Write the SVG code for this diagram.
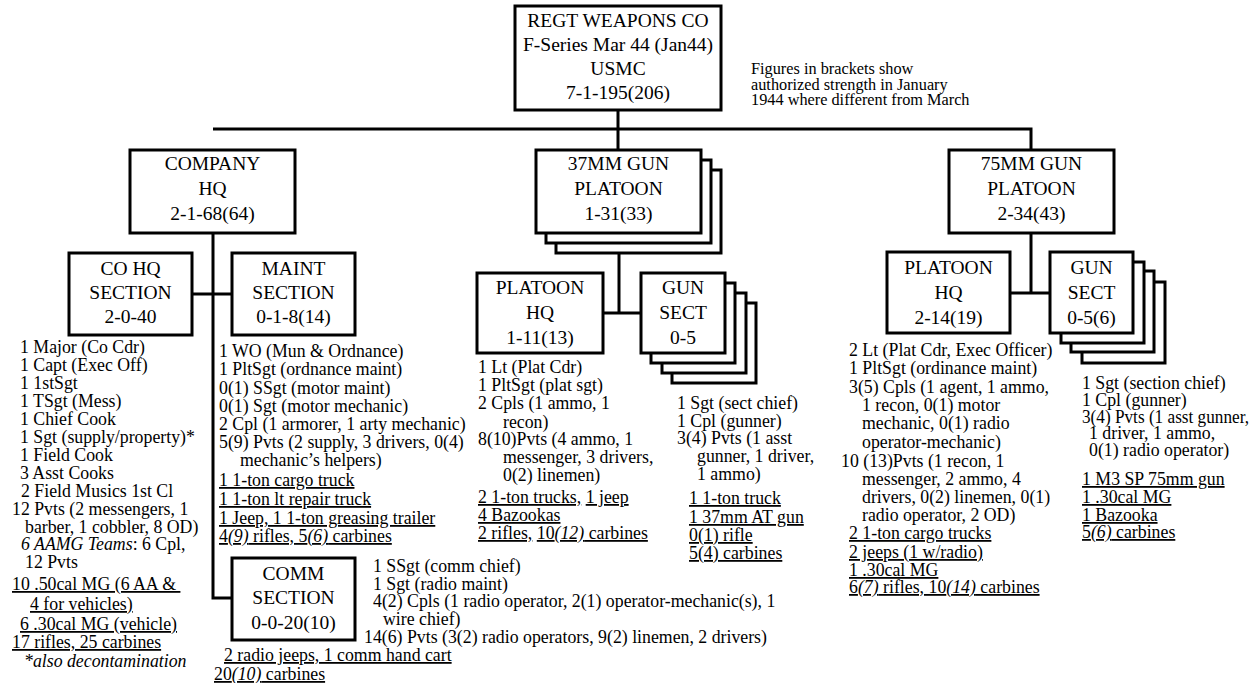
<svg xmlns="http://www.w3.org/2000/svg" width="1253" height="683" viewBox="0 0 1253 683">
<style>
.box{fill:#fff;stroke:#000;stroke-width:3}
.c{fill:none;stroke:#000;stroke-width:3}
text{font-family:"Liberation Serif","Times New Roman",serif;fill:#000}
.t{font-size:19.5px;text-anchor:middle}
.d{font-size:17.8px}
.n{font-size:16.3px}
.u{text-decoration:underline}
.i{font-style:italic}
</style>
<rect width="1253" height="683" fill="#fff"/>
<g id="connectors">
<path class="c" d="M618 110V150M213 129H1031V150M619 252V313M603 313H641M213 233V598H232M192 294H232M1031 233V293M1010 293H1050"/>
</g>
<g id="regt-weapons-co">
<rect class="box" x="515" y="6" width="206" height="104"/>
<text class="t" x="618" y="27">REGT WEAPONS CO</text>
<text class="t" x="618" y="51">F-Series Mar 44 (Jan44)</text>
<text class="t" x="618" y="75">USMC</text>
<text class="t" x="618" y="99">7-1-195(206)</text>
</g>
<g id="note">
<text class="n" x="751" y="74">Figures in brackets show</text>
<text class="n" x="751" y="89.5">authorized strength in January</text>
<text class="n" x="751" y="105">1944 where different from March</text>
</g>
<g id="company-hq">
<rect class="box" x="130" y="150" width="165" height="83"/>
<text class="t" x="212.5" y="170">COMPANY</text>
<text class="t" x="212.5" y="195">HQ</text>
<text class="t" x="212.5" y="220">2-1-68(64)</text>
</g>
<g id="co-hq-section">
<rect class="box" x="69" y="253" width="123" height="82"/>
<text class="t" x="130.5" y="275">CO HQ</text>
<text class="t" x="130.5" y="299">SECTION</text>
<text class="t" x="130.5" y="323">2-0-40</text>
<g class="d">
<text x="20" y="353">1 Major (Co Cdr)</text>
<text x="20" y="371">1 Capt (Exec Off)</text>
<text x="20" y="389">1 1stSgt</text>
<text x="20" y="407">1 TSgt (Mess)</text>
<text x="20" y="425">1 Chief Cook</text>
<text x="20" y="443">1 Sgt (supply/property)*</text>
<text x="20" y="461">1 Field Cook</text>
<text x="20" y="479">3 Asst Cooks</text>
<text x="21" y="497">2 Field Musics 1st Cl</text>
<text x="12" y="515">12 Pvts (2 messengers, 1</text>
<text x="25" y="533">barber, 1 cobbler, 8 OD)</text>
<text x="21" y="550"><tspan class="i">6 AAMG Teams</tspan>: 6 Cpl,</text>
<text x="25" y="568">12 Pvts</text>
<text class="u" x="12" y="590">10 .50cal MG (6 AA &amp;&#160;</text>
<text class="u" x="30" y="610">4 for vehicles)</text>
<text class="u" x="20" y="630">6 .30cal MG (vehicle)</text>
<text class="u" x="12" y="648">17 rifles, 25 carbines</text>
<text class="i" x="24" y="667">*also decontamination</text>
</g>
</g>
<g id="maint-section">
<rect class="box" x="232" y="253" width="123" height="82"/>
<text class="t" x="293.5" y="275">MAINT</text>
<text class="t" x="293.5" y="299">SECTION</text>
<text class="t" x="293.5" y="323">0-1-8(14)</text>
<g class="d">
<text x="219" y="357">1 WO (Mun &amp; Ordnance)</text>
<text x="219" y="375">1 PltSgt (ordnance maint)</text>
<text x="219" y="394">0(1) SSgt (motor maint)</text>
<text x="219" y="412">0(1) Sgt (motor mechanic)</text>
<text x="219" y="430">2 Cpl (1 armorer, 1 arty mechanic)</text>
<text x="219" y="448">5(9) Pvts (2 supply, 3 drivers, 0(4)</text>
<text x="240" y="466">mechanic’s helpers)</text>
<text class="u" x="219" y="486">1 1-ton cargo truck</text>
<text class="u" x="219" y="505">1 1-ton lt repair truck</text>
<text class="u" x="219" y="524">1 Jeep, 1 1-ton greasing trailer</text>
<text class="u" x="219" y="542">4<tspan class="i">(9)</tspan> rifles, 5<tspan class="i">(6)</tspan> carbines</text>
</g>
</g>
<g id="comm-section">
<rect class="box" x="232" y="558" width="123" height="82"/>
<text class="t" x="293.5" y="580">COMM</text>
<text class="t" x="293.5" y="604">SECTION</text>
<text class="t" x="293.5" y="629">0-0-20(10)</text>
<g class="d">
<text x="373" y="572">1 SSgt (comm chief)</text>
<text x="373" y="590">1 Sgt (radio maint)</text>
<text x="373" y="607">4(2) Cpls (1 radio operator, 2(1) operator-mechanic(s), 1</text>
<text x="383" y="625">wire chief)</text>
<text x="364" y="643">14(6) Pvts (3(2) radio operators, 9(2) linemen, 2 drivers)</text>
<text class="u" x="224" y="661">2 radio jeeps, 1 comm hand cart</text>
<text class="u" x="214" y="680">20<tspan class="i">(10)</tspan> carbines</text>
</g>
</g>
<g id="gun37-platoon">
<rect class="box" x="556" y="170" width="165" height="83"/>
<rect class="box" x="546" y="160" width="165" height="83"/>
<rect class="box" x="536" y="150" width="165" height="83"/>
<text class="t" x="618.5" y="170">37MM GUN</text>
<text class="t" x="618.5" y="195">PLATOON</text>
<text class="t" x="618.5" y="220">1-31(33)</text>
</g>
<g id="gun37-platoon-hq">
<rect class="box" x="477" y="273" width="126" height="80"/>
<text class="t" x="540" y="294">PLATOON</text>
<text class="t" x="540" y="319">HQ</text>
<text class="t" x="540" y="344">1-11(13)</text>
<g class="d">
<text x="478" y="373">1 Lt (Plat Cdr)</text>
<text x="478" y="391">1 PltSgt (plat sgt)</text>
<text x="478" y="409">2 Cpls (1 ammo, 1</text>
<text x="503" y="428">recon)</text>
<text x="478" y="445">8(10)Pvts (4 ammo, 1</text>
<text x="503" y="463">messenger, 3 drivers,</text>
<text x="503" y="481">0(2) linemen)</text>
<text x="478" y="503"><tspan class="u">2 1-ton trucks,</tspan> <tspan class="u">1 jeep</tspan></text>
<text class="u" x="478" y="521">4 Bazookas</text>
<text x="478" y="539"><tspan class="u">2 rifles,</tspan> <tspan class="u">10<tspan class="i">(12)</tspan> carbines</tspan></text>
</g>
</g>
<g id="gun37-gun-sect">
<rect class="box" x="672" y="303" width="84" height="80"/>
<rect class="box" x="662" y="293" width="84" height="80"/>
<rect class="box" x="651" y="283" width="84" height="80"/>
<rect class="box" x="641" y="273" width="84" height="80"/>
<text class="t" x="683" y="294">GUN</text>
<text class="t" x="683" y="319">SECT</text>
<text class="t" x="683" y="344">0-5</text>
<g class="d">
<text x="677" y="409">1 Sgt (sect chief)</text>
<text x="677" y="427">1 Cpl (gunner)</text>
<text x="677" y="444">3(4) Pvts (1 asst</text>
<text x="697" y="462">gunner, 1 driver,</text>
<text x="697" y="480">1 ammo)</text>
<text class="u" x="689" y="504">1 1-ton truck</text>
<text class="u" x="689" y="523">1 37mm AT gun</text>
<text class="u" x="689" y="541">0(1) rifle</text>
<text class="u" x="689" y="559">5(4) carbines</text>
</g>
</g>
<g id="gun75-platoon">
<rect class="box" x="949" y="150" width="165" height="83"/>
<text class="t" x="1031.5" y="170">75MM GUN</text>
<text class="t" x="1031.5" y="195">PLATOON</text>
<text class="t" x="1031.5" y="220">2-34(43)</text>
</g>
<g id="gun75-platoon-hq">
<rect class="box" x="887" y="252" width="123" height="81"/>
<text class="t" x="948.5" y="274">PLATOON</text>
<text class="t" x="948.5" y="299">HQ</text>
<text class="t" x="948.5" y="324">2-14(19)</text>
<g class="d">
<text x="849" y="356">2 Lt (Plat Cdr, Exec Officer)</text>
<text x="849" y="374">1 PltSgt (ordinance maint)</text>
<text x="849" y="393">3(5) Cpls (1 agent, 1 ammo,</text>
<text x="862" y="411">1 recon, 0(1) motor</text>
<text x="862" y="429">mechanic, 0(1) radio</text>
<text x="862" y="448">operator-mechanic)</text>
<text x="841" y="467">10 (13)Pvts (1 recon, 1</text>
<text x="862" y="485">messenger, 2 ammo, 4</text>
<text x="862" y="503">drivers, 0(2) linemen, 0(1)</text>
<text x="862" y="521">radio operator, 2 OD)</text>
<text class="u" x="849" y="539">2 1-ton cargo trucks</text>
<text class="u" x="849" y="558">2 jeeps (1 w/radio)</text>
<text class="u" x="849" y="576">1 .30cal MG</text>
<text class="u" x="849" y="593">6<tspan class="i">(7)</tspan> rifles, 10<tspan class="i">(14)</tspan> carbines</text>
</g>
</g>
<g id="gun75-gun-sect">
<rect class="box" x="1082" y="282" width="83" height="81"/>
<rect class="box" x="1071" y="271" width="83" height="81"/>
<rect class="box" x="1061" y="262" width="83" height="81"/>
<rect class="box" x="1050" y="252" width="83" height="81"/>
<text class="t" x="1091.5" y="274">GUN</text>
<text class="t" x="1091.5" y="299">SECT</text>
<text class="t" x="1091.5" y="324">0-5(6)</text>
<g class="d">
<text x="1082" y="389">1 Sgt (section chief)</text>
<text x="1082" y="406">1 Cpl (gunner)</text>
<text x="1082" y="423" textLength="167" lengthAdjust="spacingAndGlyphs">3(4) Pvts (1 asst gunner,</text>
<text x="1089" y="439">1 driver, 1 ammo,</text>
<text x="1089" y="456">0(1) radio operator)</text>
<text class="u" x="1082" y="485">1 M3 SP 75mm gun</text>
<text class="u" x="1082" y="503">1 .30cal MG</text>
<text class="u" x="1082" y="521">1 Bazooka</text>
<text class="u" x="1082" y="538">5<tspan class="i">(6)</tspan> carbines</text>
</g>
</g>
</svg>
